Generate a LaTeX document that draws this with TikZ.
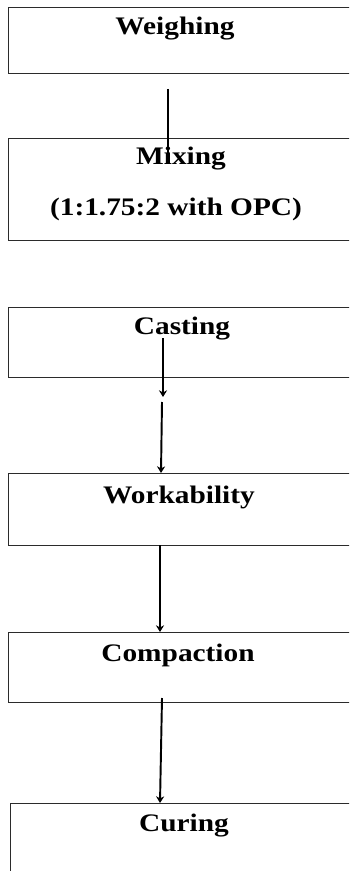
\documentclass[tikz,border=0pt]{standalone}
\usepackage{fontspec}
\setmainfont{Liberation Serif}
\usetikzlibrary{arrows.meta}
\definecolor{ink}{HTML}{000000}
\definecolor{frame}{HTML}{2B2B2B}
\newcommand{\stlab}[1]{\scalebox{1}[0.86]{#1}}
\tikzset{
  stage/.style={draw=frame,line width=0.65pt,anchor=north west,inner sep=0pt,minimum width=7.04cm},
  stxt/.style={font=\fontsize{16.7}{20}\selectfont\bfseries,anchor=base,inner sep=0pt},
  flow/.style={ink,line width=1.1pt,-{Stealth[length=3.8pt,width=4.6pt,inset=1.2pt]}},
  link/.style={ink,line width=1.1pt},
}
\begin{document}
\begin{tikzpicture}[x=0.02cm,y=-0.02cm]
  \useasboundingbox (0,0) rectangle (349,871);
  \clip (0,0) rectangle (349,871);
  % stage boxes
  \node[stage,minimum height=1.32cm] (weigh) at (8,7) {};
  \node[stage,minimum height=2.04cm] (mix) at (8,138) {};
  \node[stage,minimum height=1.40cm] (cast) at (8,307) {};
  \node[stage,minimum height=1.44cm] (work) at (8,473) {};
  \node[stage,minimum height=1.40cm] (comp) at (8,632) {};
  \node[stage,minimum height=1.94cm] (cure) at (10,803) {};
  % labels
  \node[stxt] (tweigh) at (175,35) {\stlab{Weighing}};
  \node[stxt] (tmix) at (181,165) {\stlab{Mixing}};
  \node[stxt] (tmixb) at (176,216) {\stlab{(1:1.75:2 with OPC)}};
  \node[stxt] (tcast) at (182,334) {\stlab{Casting}};
  \node[stxt] (twork) at (179,503) {\stlab{Workability}};
  \node[stxt] (tcomp) at (178,661) {\stlab{Compaction}};
  \node[stxt] (tcure) at (184,831) {\stlab{Curing}};
  % connector ends
  \coordinate (a1s) at (168,89);
  \coordinate (a1e) at (168,155);
  \coordinate (a2s) at (163,338);
  \coordinate (a2e) at (163,397);
  \coordinate (a3s) at (162,402);
  \coordinate (a3e) at (161,473);
  \coordinate (a4s) at (160,545);
  \coordinate (a4e) at (160,632);
  \coordinate (a5s) at (162,698);
  \coordinate (a5e) at (160,803);
  \draw[link] (a1s) -- (a1e);
  \draw[flow] (a2s) -- (a2e);
  \draw[flow] (a3s) -- (a3e);
  \draw[flow] (a4s) -- (a4e);
  \draw[flow] (a5s) -- (a5e);
\end{tikzpicture}
\end{document}
